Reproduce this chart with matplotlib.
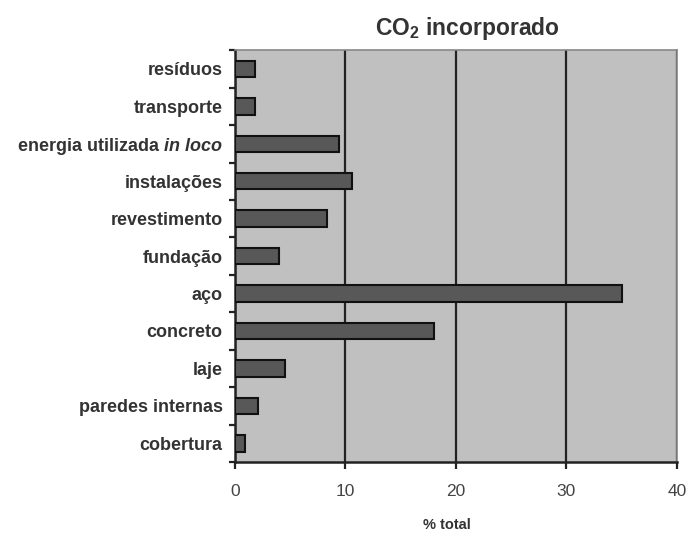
import matplotlib
matplotlib.use('Agg')
import matplotlib.pyplot as plt
import numpy as np

plt.rcParams['font.family'] = ['Liberation Sans', 'DejaVu Sans']
plt.rcParams['mathtext.fontset'] = 'custom'
plt.rcParams['mathtext.rm'] = 'Liberation Sans:bold'
plt.rcParams['mathtext.it'] = 'Liberation Sans:bold:italic'
plt.rcParams['mathtext.bf'] = 'Liberation Sans:bold'

# data (top to bottom)
categorias = ['resíduos', 'transporte', 'energia utilizada $\\mathit{in\\ loco}$',
              'instalações', 'revestimento', 'fundação', 'aço', 'concreto',
              'laje', 'paredes internas', 'cobertura']
valores = [1.8, 1.8, 9.4, 10.6, 8.3, 4.0, 35.0, 18.0, 4.5, 2.1, 0.9]
xticks = [0, 10, 20, 30, 40]

fig = plt.figure(figsize=(6.9, 5.34), dpi=100)
ax = fig.add_axes([0.3406, 0.1348, 0.6404, 0.7712])

n = len(categorias)
y = np.arange(n)[::-1]
ax.barh(y, valores, height=0.44, color='#585858', edgecolor='#111111',
        linewidth=1.5, zorder=3)

ax.set_facecolor('#c0c0c0')
ax.set_xlim(0, 40)
ax.set_ylim(-0.5, n - 0.5)
ax.set_xticks(xticks)
ax.set_xticklabels([str(t) for t in xticks], fontsize=12.5, color='#444444')
ax.xaxis.grid(True, color='#222222', linewidth=1.6, zorder=1)

ax.set_yticks(y)
ax.set_yticklabels(categorias, fontsize=13, fontweight='bold', color='#333333')
ax.set_yticks(np.arange(-0.5, n, 1.0), minor=True)
ax.tick_params(axis='y', which='major', length=0, pad=9)
ax.tick_params(axis='y', which='minor', length=4, width=1.6, color='#222222')
ax.tick_params(axis='x', length=5, width=1.6, color='#222222', pad=11)

for s in ['left', 'bottom']:
    ax.spines[s].set_color('#222222')
    ax.spines[s].set_linewidth(1.8)
for s in ['top', 'right']:
    ax.spines[s].set_color('#888888')
    ax.spines[s].set_linewidth(1.2)

ax.set_xlabel('% total', fontsize=10.5, fontweight='bold', color='#333333')
ax.xaxis.set_label_coords(0.48, -0.135)
fig.text(0.677, 0.947, 'CO$_2$ incorporado', fontsize=16.5, fontweight='bold',
         color='#333333', ha='center', va='center')

plt.savefig('out.png', dpi=100)
